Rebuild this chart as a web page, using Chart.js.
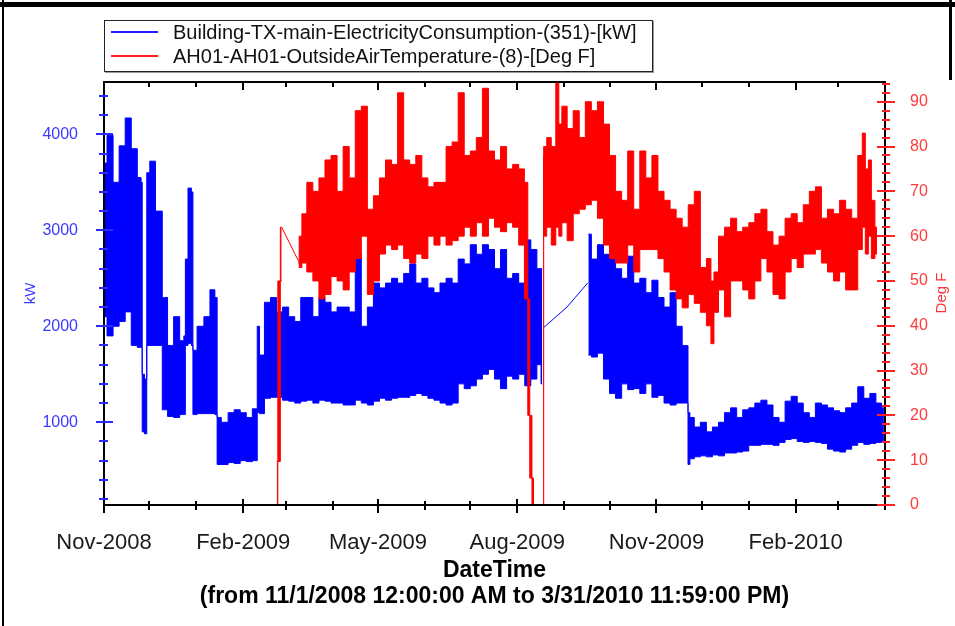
<!DOCTYPE html>
<html lang="en">
<head>
<meta charset="UTF-8">
<title>Electricity Consumption vs Outside Air Temperature</title>
<script src="https://cdn.jsdelivr.net/npm/chart.js"></script>
<style>
body { margin: 0; background: #fff; font-family: 'Liberation Sans', Arial, sans-serif; }
.wrap { position: relative; width: 955px; height: 626px; overflow: hidden; }
#chart { position: absolute; left: 0; top: 0; }
/* outer frame bits */
.edge-top { position: absolute; left: 0; top: 2px; width: 955px; height: 5px; background: #000; }
.edge-left { position: absolute; left: 2px; top: 0; width: 2px; height: 626px; background: #000; }
.edge-right { position: absolute; left: 949px; top: 0; width: 3px; height: 80px; background: #000; }
/* legend box */
.legend { position: absolute; left: 104px; top: 20px; width: 547px; height: 50px; border: 1px solid #222; background: #fff; box-shadow: 1px 1px 0 #999; }
.legend .row { position: absolute; left: 0; height: 24px; line-height: 24px; font-size: 20px; color: #111; white-space: nowrap; }
.legend .swatch { position: absolute; left: 6px; top: 11px; width: 47px; height: 2px; }
.legend .label { position: absolute; left: 68px; top: 0; }
.deg-title { position: absolute; left: 940px; top: 293px; transform: translate(-50%, -50%) rotate(-90deg); color: #ff3333; font-size: 15px; white-space: nowrap; }
</style>
</head>
<body>
<div class="wrap">
    <canvas id="chart" width="955" height="626"></canvas>
    <div class="edge-top"></div>
    <div class="edge-left"></div>
    <div class="edge-right"></div>
    <div class="legend">
        <div class="row" style="top:-1px"><span class="swatch" style="background:#2020ff"></span><span class="label">Building-TX-main-ElectricityConsumption-(351)-[kW]</span></div>
        <div class="row" style="top:23px"><span class="swatch" style="background:#ff2020"></span><span class="label">AH01-AH01-OutsideAirTemperature-(8)-[Deg F]</span></div>
    </div>
    <div class="deg-title">Deg F</div>
</div>

<script>
// x values are days since 11/1/2008
var monthStarts = [0, 30, 61, 92, 120, 151, 181, 212, 242, 273, 304, 334, 365, 395, 426, 457, 485, 516];
var monthLabels = ['Nov-2008', '', '', 'Feb-2009', '', '', 'May-2009', '', '', 'Aug-2009', '', '', 'Nov-2009', '', '', 'Feb-2010', '', ''];
var kwTickLabels = [1000, 2000, 3000, 4000];
var degTickLabels = [0, 10, 20, 30, 40, 50, 60, 70, 80, 90];

// electricity (kW): upper and lower edge of the daily swing
var kwDays = [
    0, 4, 8, 12, 16, 20, 24, 25, 25.5, 28,
    28.5, 32, 36, 38, 39, 40, 44, 48, 52, 53.5,
    54, 57, 58.5, 59, 64, 68, 72, 74.5, 75, 80,
    84, 88, 92, 96, 100, 101, 101.5, 104, 108, 112,
    116, 120, 124, 128, 132, 136, 140, 144, 148, 152,
    156, 160, 164, 168, 172, 176, 180, 184, 188, 192,
    196, 200, 204, 208, 212, 216, 220, 224, 228, 232,
    236, 240, 244, 248, 252, 256, 260, 264, 268, 272,
    276, 280, 284, 288, 289.5, 305, 320, 324,
    328, 332, 336, 340, 344, 348, 352, 356, 360, 364,
    368, 372, 376, 380, 384, 385.5, 386.2, 388, 392, 396,
    400, 404, 408, 412, 416, 420, 424, 428, 432, 436,
    440, 444, 448, 452, 456, 460, 464, 468, 472, 476,
    480, 484, 488, 492, 496, 500, 504, 508, 512, 515.3
];
var kwHigh = [
    3700, 3990, 3500, 3880, 4170, 3850, 3550, 3500, 1500, 1450,
    3600, 3720, 3200, 3200, 2300, 2300, 1800, 2100, 1850, 1900,
    2700, 3440, 3400, 1750, 2000, 2100, 2380, 2300, 1050, 1000,
    1100, 1130, 1100, 1050, 1140, 1140, 2000, 1700, 2250, 2300,
    2150, 2200, 2100, 2050, 2300, 2300, 2100, 2300, 2250, 2150,
    2200, 2200, 2150, 2750, 2000, 2200, 2450, 2400, 2450, 2500,
    2450, 2550, 2650, 2450, 2500, 2400, 2350, 2450, 2500, 2450,
    2700, 2650, 2850, 2750, 2850, 2800, 2600, 2800, 2500, 2550,
    2450, 2900, 2800, 2600, 2600, null, 2960, 2700,
    2850, 2750, 2700, 2600, 2500, 2730, 2450, 2500, 2350, 2480,
    2300, 2200, 2350, 2000, 1800, 1800, 1100, 1050, 950, 1000,
    900, 950, 1000, 1100, 1150, 1050, 1130, 1150, 1200, 1230,
    1180, 1050, 1000, 1220, 1270, 1200, 1100, 1050, 1200, 1180,
    1150, 1120, 1100, 1150, 1200, 1370, 1250, 1300, 1200, 1150
];
var kwLow = [
    2100, 1900, 2000, 2050, 2150, 1800, 1780, 1780, 900, 880,
    1800, 1800, 1800, 1800, 1130, 1130, 1060, 1050, 1080, 1080,
    1800, 1820, 1800, 1080, 1090, 1090, 1090, 1080, 560, 560,
    580, 570, 600, 590, 600, 600, 1100, 1090, 1250, 1260,
    1260, 1230, 1220, 1200, 1220, 1230, 1200, 1230, 1220, 1200,
    1200, 1180, 1180, 1230, 1200, 1180, 1220, 1250, 1230, 1250,
    1260, 1260, 1280, 1300, 1280, 1250, 1230, 1200, 1180, 1200,
    1400, 1350, 1380, 1450, 1500, 1550, 1450, 1350, 1480, 1450,
    1500, 1380, 1450, 1600, 1400, null, 1700, 1680,
    1720, 1450, 1300, 1250, 1400, 1340, 1350, 1300, 1400, 1260,
    1280, 1200, 1180, 1200, 1200, 1200, 560, 620, 640, 650,
    640, 660, 650, 680, 680, 690, 700, 760, 760, 770,
    770, 760, 790, 820, 830, 800, 790, 800, 790, 780,
    720, 700, 690, 720, 760, 790, 770, 780, 790, 800
];
// thin straight line across the missing kW readings (Aug-Sep 2009)
var kwBridgeDays = [290, 305.9, 319.5];
var kwBridge = [1980, 2200, 2450];

// outside air temperature (Deg F): upper and lower edge
var tempDays = [
    114.1, 115.6, 117.4, 120, 128.4, 129.5, 132, 136, 140, 144,
    148, 152, 156, 160, 164, 168, 172, 176, 180, 184,
    188, 192, 196, 200, 204, 208, 212, 216, 220, 224,
    228, 232, 236, 240, 244, 248, 252, 256, 260, 264,
    268, 272, 276, 279.5, 280.5, 282.1, 283.4, 284.1, 287, 290,
    291, 294, 297, 300, 301, 304, 308, 312, 316, 320,
    324, 328, 332, 336, 340, 344, 348, 352, 356, 360,
    364, 368, 372, 376, 380, 384, 388, 392, 396, 400,
    402, 404, 408, 412, 416, 420, 424, 428, 432, 436,
    440, 444, 448, 452, 456, 460, 464, 468, 472, 476,
    480, 484, 488, 492, 496, 500, 502, 504, 506, 508,
    510.7
];
var tempHigh = [
    9.7, 50, 62, null, 54.5, 60, 65, 72, 70, 73,
    77, 78, 70, 80, 73, 88, 89, 66, 69, 73,
    77, 76, 92, 77, 76, 78, 73, 71, 72, 72,
    80, 81, 92, 78, 79, 82, 93, 79, 77, 80,
    75, 76, 75, 72, 46, 20, 6, 0, null, 78,
    80, 82, 80, 96, 85, 89, 84, 88, 82, 90,
    88, 90, 85, 78, 70, 68, 79, 66, 79, 73,
    78, 70, 68, 66, 64, 62, 67, 70, 53, 55,
    50, 52, 60, 62, 64, 61, 62, 63, 65, 66,
    61, 58, 60, 64, 65, 63, 67, 70, 71, 64,
    66, 65, 68, 66, 64, 78, 83, 75, 77, 68,
    62
];
var tempLow = [
    0, 9.7, 50, null, 54, 53, 54, 52, 50, 46,
    47, 51, 50, 48, 52, 55, 60, 47, 50, 56,
    58, 57, 58, 55, 54, 56, 55, 60, 58, 60,
    58, 59, 60, 62, 60, 63, 60, 64, 62, 61,
    63, 62, 58, 46, 20, 6, 0, 0, null, 0,
    60, 62, 58, 62, 60, 63, 59, 65, 66, 67,
    68, 64, 58, 55, 54, 54, 58, 52, 57, 57,
    57, 55, 52, 48, 46, 44, 47, 45, 43, 40,
    36, 43, 48, 42, 50, 50, 48, 46, 50, 55,
    52, 47, 46, 52, 55, 53, 56, 56, 57, 54,
    52, 50, 52, 48, 48, 57, 62, 56, 60, 55,
    56
];
// straight line across the missing temperature readings (Feb 2009)
var tempBridgeDays = [117.4, 128.4];
var tempBridge = [62, 54.5];

function toPoints(days, vals) {
    return days.map(function (d, i) { return { x: d, y: vals[i] }; });
}

var fontFamily = "'Liberation Sans', Arial, sans-serif";
var kwColor = '#0000ff';
var tempColor = '#ff0000';

// frame and crossing tick marks, drawn from the scales' own ticks
var frameTicks = {
    id: 'frameTicks',
    afterDraw: function (chart) {
        var ctx = chart.ctx, a = chart.chartArea, s = chart.scales;
        ctx.save();
        ctx.lineWidth = 2;
        ctx.strokeStyle = '#000';
        ctx.strokeRect(a.left, a.top, a.right - a.left, a.bottom - a.top);

        function line(x1, y1, x2, y2) { ctx.beginPath(); ctx.moveTo(x1, y1); ctx.lineTo(x2, y2); ctx.stroke(); }

        s.x.ticks.forEach(function (t) {
            var px = Math.round(s.x.getPixelForValue(t.value));
            var major = t.label !== '';
            line(px, a.bottom - (major ? 6 : 4), px, a.bottom + (major ? 8 : 5));
            line(px, a.top, px, a.top + (major ? 8 : 5));
        });
        ctx.strokeStyle = '#2a2aff';
        s.y.ticks.forEach(function (t) {
            var py = Math.round(s.y.getPixelForValue(t.value));
            var major = t.label !== '';
            line(a.left - (major ? 8 : 5), py, a.left + (major ? 9 : 4), py);
        });
        ctx.strokeStyle = '#ff2020';
        s.y1.ticks.forEach(function (t) {
            var py = Math.round(s.y1.getPixelForValue(t.value));
            var major = t.label !== '';
            line(a.right - (major ? 8 : 3), py, a.right + (major ? 10 : 5), py);
        });
        ctx.restore();
    }
};

new Chart(document.getElementById('chart'), {
    type: 'line',
    data: {
        datasets: [{
            label: 'AH01-AH01-OutsideAirTemperature-(8)-[Deg F]',
            data: toPoints(tempDays, tempHigh),
            yAxisID: 'y1',
            borderColor: tempColor,
            backgroundColor: tempColor,
            stepped: 'middle',
            fill: '+1'
        }, {
            label: 'temp low',
            data: toPoints(tempDays, tempLow),
            yAxisID: 'y1',
            borderColor: tempColor,
            stepped: 'middle',
            fill: false
        }, {
            label: 'temp bridge',
            data: toPoints(tempBridgeDays, tempBridge),
            yAxisID: 'y1',
            borderColor: tempColor,
            fill: false
        }, {
            label: 'Building-TX-main-ElectricityConsumption-(351)-[kW]',
            data: toPoints(kwDays, kwHigh),
            yAxisID: 'y',
            borderColor: kwColor,
            backgroundColor: kwColor,
            stepped: 'middle',
            fill: '+1'
        }, {
            label: 'kw low',
            data: toPoints(kwDays, kwLow),
            yAxisID: 'y',
            borderColor: kwColor,
            stepped: 'middle',
            fill: false
        }, {
            label: 'kw bridge',
            data: toPoints(kwBridgeDays, kwBridge),
            yAxisID: 'y',
            borderColor: kwColor,
            fill: false
        }]
    },
    options: {
        responsive: false,
        animation: false,
        devicePixelRatio: 1,
        layout: { padding: { top: 82, left: 0, right: 0, bottom: 0 } },
        elements: {
            point: { radius: 0 },
            line: { tension: 0, borderWidth: 1 }
        },
        plugins: {
            legend: { display: false },
            tooltip: { enabled: false }
        },
        scales: {
            x: {
                type: 'linear',
                position: 'bottom',
                min: 0,
                max: 516,
                afterBuildTicks: function (axis) {
                    axis.ticks = monthStarts.map(function (v) { return { value: v }; });
                },
                afterFit: function (axis) { axis.height = 121; },
                grid: { display: false },
                border: { display: false },
                ticks: {
                    autoSkip: false,
                    maxRotation: 0,
                    padding: 17,
                    color: '#1a1a1a',
                    font: { family: fontFamily, size: 22 },
                    callback: function (v, i) { return monthLabels[i]; }
                },
                title: {
                    display: true,
                    text: ['DateTime', '(from 11/1/2008 12:00:00 AM to 3/31/2010 11:59:00 PM)'],
                    color: '#000',
                    font: { family: fontFamily, size: 23, weight: 'bold', lineHeight: '26px' },
                    padding: { top: 0, bottom: 16 }
                }
            },
            y: {
                position: 'left',
                min: 138,
                max: 4545,
                afterBuildTicks: function (axis) {
                    var t = [];
                    for (var v = 200; v <= 4400; v += 200) t.push({ value: v });
                    axis.ticks = t;
                },
                afterFit: function (axis) { axis.width = 104; },
                grid: { display: false },
                border: { display: false },
                ticks: {
                    autoSkip: false,
                    padding: 18,
                    color: '#3a3aff',
                    font: { family: fontFamily, size: 16 },
                    callback: function (v) { return kwTickLabels.indexOf(v) >= 0 ? String(v) : ''; }
                },
                title: {
                    display: true,
                    text: 'kW',
                    color: '#3a3aff',
                    font: { family: fontFamily, size: 15 },
                    padding: { top: 22, bottom: 0 }
                }
            },
            y1: {
                position: 'right',
                min: 0,
                max: 94.4,
                afterBuildTicks: function (axis) {
                    var t = [];
                    for (var v = 0; v <= 94; v += 2) t.push({ value: v });
                    axis.ticks = t;
                },
                afterFit: function (axis) { axis.width = 70; },
                grid: { display: false },
                border: { display: false },
                ticks: {
                    autoSkip: false,
                    padding: 17,
                    color: '#ff3a3a',
                    font: { family: fontFamily, size: 16 },
                    callback: function (v) { return degTickLabels.indexOf(v) >= 0 ? String(v) : ''; }
                }
            }
        }
    },
    plugins: [frameTicks]
});
</script>
</body>
</html>
